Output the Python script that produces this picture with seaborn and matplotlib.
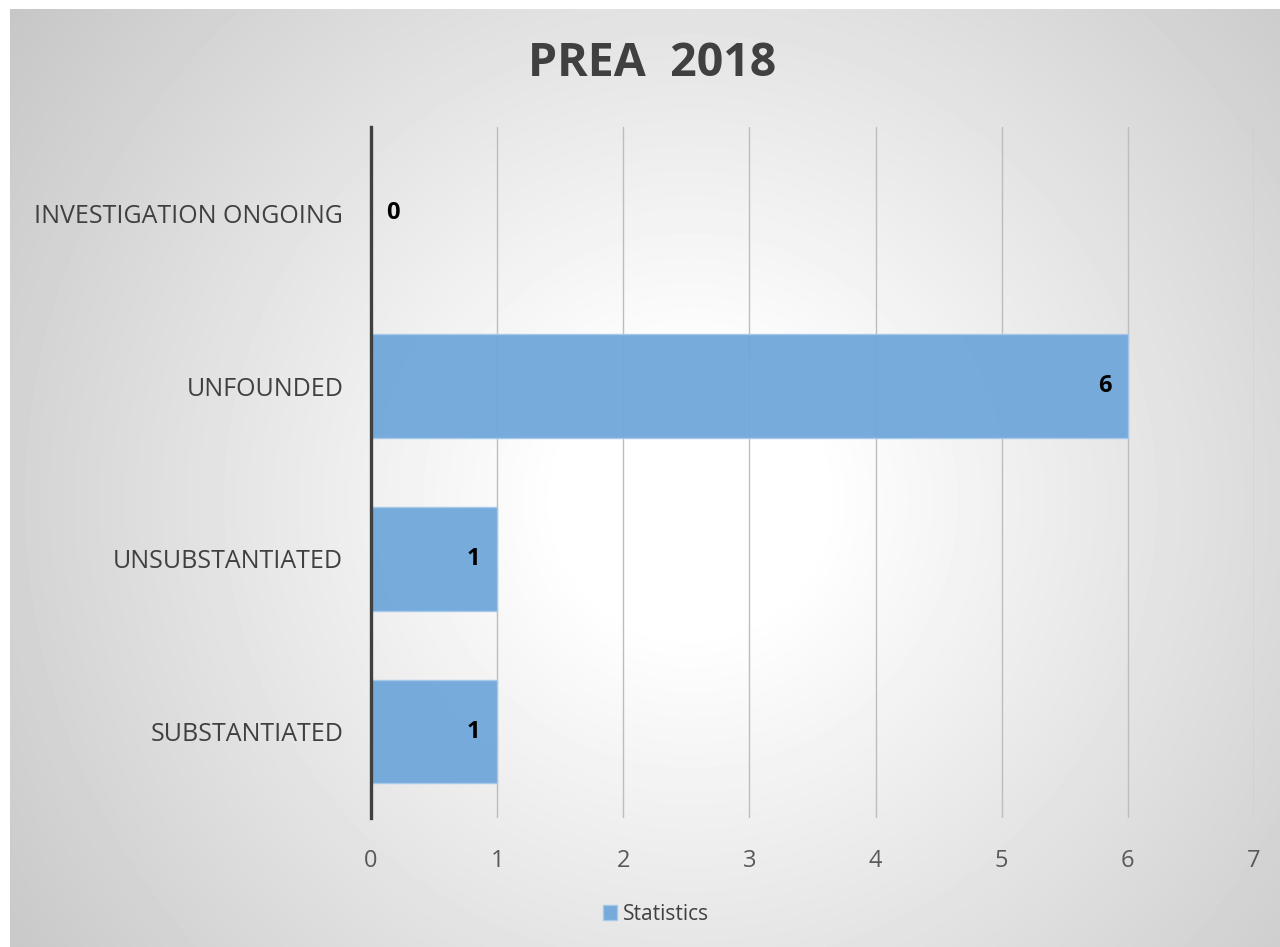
import matplotlib
matplotlib.use("Agg")
import matplotlib.pyplot as plt
import numpy as np
import seaborn as sns

# Data
categories = ['INVESTIGATION ONGOING', 'UNFOUNDED', 'UNSUBSTANTIATED', 'SUBSTANTIATED']
values = [0, 6, 1, 1]
series_name = 'Statistics'
x_ticks = [0, 1, 2, 3, 4, 5, 6, 7]
title = 'PREA  2018'

sns.set_theme(style='white')
plt.rcParams['font.family'] = ['Open Sans', 'DejaVu Sans']

W, H = 1280, 947
fig = plt.figure(figsize=(W / 100, H / 100), dpi=100, facecolor='white')

# radial gradient background (white centre, grey edges), white margin top/left
bg = fig.add_axes([10 / W, 0, (W - 10) / W, (H - 9) / H], zorder=0)
yy, xx = np.mgrid[9:H, 10:W]
d = np.hypot(xx - 690, yy - 500)
shade = np.clip(255 - 0.08 * np.clip(d - 130, 0, None), 0, 255) / 255
bg.imshow(shade, cmap='gray', vmin=0, vmax=1, aspect='auto', interpolation='bilinear')
bg.set_axis_off()

ax = fig.add_axes([371 / W, 1 - 818 / H, (1254 - 371) / W, (818 - 127) / H], zorder=1)
ax.set_facecolor('none')

bar_color = '#6fa7da'
sns.barplot(x=values, y=categories, orient='h', color=bar_color, width=0.6,
            saturation=1, alpha=0.95, edgecolor='#a6c8ea', linewidth=1,
            label=series_name, ax=ax, zorder=3)
handles, labels = ax.get_legend_handles_labels()
if ax.get_legend() is not None:
    ax.get_legend().remove()

ax.set_xlim(0, 7)
ax.set_ylim(3.5, -0.5)
ax.set_xticks(x_ticks)
ax.set_xlabel('')
ax.set_ylabel('')
ax.grid(axis='x', color='#bdbdbd', linewidth=1.0, zorder=1)
ax.grid(axis='y', visible=False)
ax.set_axisbelow(True)
for s in ['top', 'right', 'bottom']:
    ax.spines[s].set_visible(False)
ax.spines['left'].set_color('#404040')
ax.spines['left'].set_linewidth(2.4)
ax.spines['left'].set_zorder(5)
ax.tick_params(axis='x', length=0, pad=22, labelsize=17, labelcolor='#595959')
ax.tick_params(axis='y', length=0, pad=20, labelsize=18, labelcolor='#404040')

# data labels
for i, v in enumerate(values):
    if v > 0:
        ax.annotate(str(v), (v, i), xytext=(-12, 0), textcoords='offset points',
                    ha='right', va='center', fontsize=17, fontweight='bold',
                    color='black', zorder=6)
    else:
        ax.annotate(str(v), (v, i), xytext=(11, 0), textcoords='offset points',
                    ha='left', va='center', fontsize=17, fontweight='bold',
                    color='black', zorder=6)

fig.text(652 / W, 1 - 64 / H, title, ha='center', va='center', fontsize=33.5,
         fontweight='bold', color='#404040')

fig.legend(handles[:1], labels[:1], loc='center', bbox_to_anchor=(656 / W, 1 - 914 / H),
           frameon=False, fontsize=15, handlelength=0.7, handleheight=0.7,
           handletextpad=0.3, labelcolor='#404040')

fig.savefig('out.png', dpi=100)
